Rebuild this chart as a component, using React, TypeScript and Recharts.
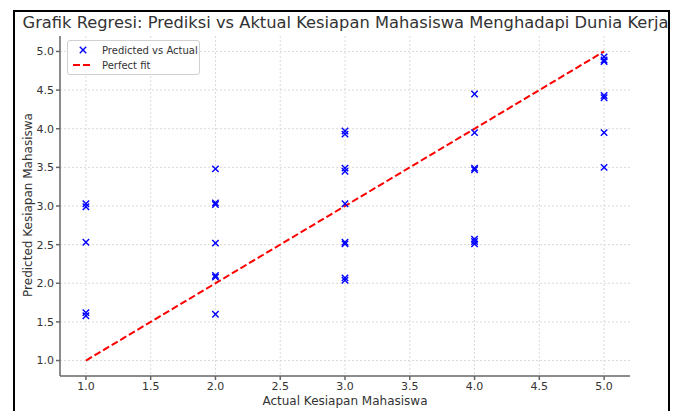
import React from 'react';
import { ReferenceLine, Scatter, ScatterChart, XAxis, YAxis, CartesianGrid } from 'recharts';

const actualValues = [
  1, 1, 1, 1, 1,
  2, 2, 2, 2, 2, 2, 2,
  3, 3, 3, 3, 3, 3, 3, 3, 3,
  4, 4, 4, 4, 4, 4, 4,
  5, 5, 5, 5, 5, 5, 5,
];
const predictedValues = [
  3.03, 2.99, 2.53, 1.62, 1.58,
  3.48, 3.04, 3.02, 2.52, 2.1, 2.08, 1.6,
  3.97, 3.93, 3.49, 3.45, 3.03, 2.53, 2.51, 2.07, 2.04,
  4.45, 3.95, 3.49, 3.47, 2.57, 2.54, 2.51,
  4.93, 4.89, 4.87, 4.43, 4.4, 3.95, 3.5,
];
const ticks = [1.0, 1.5, 2.0, 2.5, 3.0, 3.5, 4.0, 4.5, 5.0];
const perfectFit = [1, 5];

const FONT = '"DejaVu Sans", sans-serif';
const TEXT = '#333';

const points = actualValues.map((a, i) => ({ actual: a, predicted: predictedValues[i] }));

const Cross = (props: any) => {
  const { cx, cy } = props;
  if (cx == null || cy == null) return null;
  const r = 3.2;
  return (
    <g stroke="#0000ff" strokeWidth={1.4}>
      <line x1={cx - r} y1={cy - r} x2={cx + r} y2={cy + r} />
      <line x1={cx - r} y1={cy + r} x2={cx + r} y2={cy - r} />
    </g>
  );
};

export default function App() {
  return (
    <div style={{ position: 'relative', width: 675, height: 403, fontFamily: FONT }}>
      <div
        style={{
          position: 'absolute',
          left: 5,
          top: 2,
          width: 657,
          height: 420,
          border: '2px solid #000',
          boxSizing: 'border-box',
        }}
      />
      <div style={{ position: 'absolute', left: -8, top: -8 }}>
        <ScatterChart width={683} height={411} margin={{ top: 36, right: 53, bottom: 5, left: 20 }}>
          <CartesianGrid stroke="#dadada" strokeDasharray="2 2" horizontalValues={ticks} verticalValues={ticks} />
          <XAxis
            type="number"
            dataKey="actual"
            domain={[0.8, 5.2]}
            ticks={ticks}
            tickFormatter={(v: number) => v.toFixed(1)}
            height={30}
            stroke="#666"
            strokeWidth={1.5}
            tickSize={4}
            tick={{ fill: TEXT, fontSize: 11, fontFamily: FONT }}
          />
          <YAxis
            type="number"
            dataKey="predicted"
            domain={[0.8, 5.2]}
            ticks={ticks}
            tickFormatter={(v: number) => v.toFixed(1)}
            width={40}
            stroke="#666"
            strokeWidth={1.5}
            tickSize={4}
            tick={{ fill: TEXT, fontSize: 11, fontFamily: FONT }}
          />
          <ReferenceLine
            segment={[
              { x: perfectFit[0], y: perfectFit[0] },
              { x: perfectFit[1], y: perfectFit[1] },
            ]}
            stroke="#ff0000"
            strokeWidth={2}
            strokeDasharray="7 3"
          />
          <Scatter data={points} shape={<Cross />} isAnimationActive={false} />
        </ScatterChart>
      </div>
      <div
        style={{
          position: 'absolute',
          left: 0,
          width: 675,
          top: 5,
          textAlign: 'center',
          fontSize: 16.3,
          color: TEXT,
          whiteSpace: 'nowrap',
        }}
      >
        Grafik Regresi: Prediksi vs Aktual Kesiapan Mahasiswa Menghadapi Dunia Kerja
      </div>
      <div
        style={{
          position: 'absolute',
          left: 337 - 150,
          width: 300,
          top: 386,
          textAlign: 'center',
          fontSize: 12,
          color: TEXT,
          whiteSpace: 'nowrap',
        }}
      >
        Actual Kesiapan Mahasiswa
      </div>
      <div
        style={{
          position: 'absolute',
          left: 20 - 150,
          width: 300,
          top: 198 - 8,
          textAlign: 'center',
          fontSize: 12,
          color: TEXT,
          whiteSpace: 'nowrap',
          transform: 'rotate(-90deg)',
        }}
      >
        Predicted Kesiapan Mahasiswa
      </div>
      <div
        style={{
          position: 'absolute',
          left: 59,
          top: 32,
          width: 133,
          height: 35,
          border: '1px solid #d0d0d0',
          borderRadius: 3,
          background: 'rgba(255,255,255,0.8)',
          boxSizing: 'border-box',
          fontSize: 10,
          color: TEXT,
        }}
      >
        <div style={{ position: 'absolute', left: 4, top: 3, display: 'flex', alignItems: 'center' }}>
          <svg width={22} height={12}>
            <g stroke="#0000ff" strokeWidth={1.4}>
              <line x1={7.8} y1={2.8} x2={14.2} y2={9.2} />
              <line x1={7.8} y1={9.2} x2={14.2} y2={2.8} />
            </g>
          </svg>
          <span style={{ marginLeft: 8 }}>Predicted vs Actual</span>
        </div>
        <div style={{ position: 'absolute', left: 4, top: 18, display: 'flex', alignItems: 'center' }}>
          <svg width={22} height={12}>
            <line x1={1} y1={6} x2={21} y2={6} stroke="#ff0000" strokeWidth={2} strokeDasharray="7 3" />
          </svg>
          <span style={{ marginLeft: 8 }}>Perfect fit</span>
        </div>
      </div>
    </div>
  );
}
